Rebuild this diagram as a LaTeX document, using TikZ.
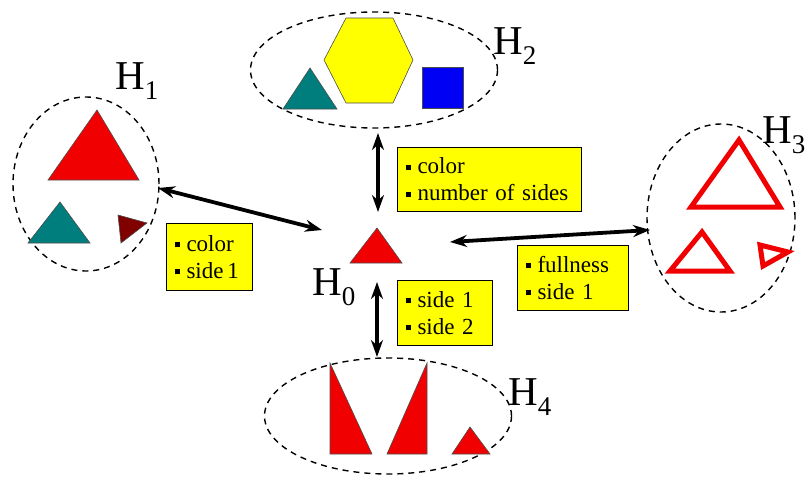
\documentclass[tikz,border=0pt]{standalone}
\usepackage{fontspec}
\setmainfont{Liberation Serif}
\usetikzlibrary{arrows.meta,shapes.geometric}
\definecolor{tealc}{RGB}{0,125,125}
\definecolor{redc}{RGB}{240,0,0}
\definecolor{darkredc}{RGB}{128,0,0}
\definecolor{bluec}{RGB}{0,0,245}
\definecolor{yelc}{RGB}{255,255,0}
\newcommand{\bul}{\rule[4pt]{5pt}{5pt}\hspace{7pt}}
\newcommand{\hsub}[1]{\raisebox{-10pt}{\fontsize{27}{27}\selectfont #1}}
\begin{document}
\begin{tikzpicture}[x=1pt,y=-1pt,
  grp/.style={draw, ellipse, dashed, dash pattern=on 6pt off 5pt, line width=1.4pt, inner sep=0pt},
  infobox/.style={draw=black, fill=yelc, line width=1pt, align=left, inner xsep=8pt, inner ysep=0pt,
    anchor=north west, font=\fontsize{23}{27}\selectfont},
  hlab/.style={anchor=base west, inner sep=0pt, font=\fontsize{41}{41}\selectfont},
  link/.style={line width=3.8pt, {Stealth[length=17pt,width=12pt]}-{Stealth[length=17pt,width=12pt]}},
  shp/.style={draw=black!70, line width=0.6pt, line join=miter},
  outl/.style={draw=redc, line width=5pt, line join=miter}
]
\useasboundingbox (0,0) rectangle (805,479);
\fill[white] (0,0) rectangle (805,479);

% group ellipses
\node[grp, minimum width=146, minimum height=174] (g1) at (86,184) {};
\node[grp, minimum width=247, minimum height=116] (g2) at (374,70) {};
\node[grp, minimum width=148, minimum height=188] (g3) at (721,218) {};
\node[grp, minimum width=247, minimum height=116] (g4) at (388,416) {};

% H2 shapes
\filldraw[shp, fill=yelc] (324,60) -- (346,18) -- (393,18) -- (413,60) -- (393,103) -- (346,103) -- cycle;
\filldraw[shp, fill=tealc] (310,68) -- (337,109) -- (283,109) -- cycle;
\filldraw[shp, fill=bluec] (422,67) rectangle (463,108);

% H1 shapes
\filldraw[shp, fill=redc] (97,110) -- (139,180) -- (48,180) -- cycle;
\filldraw[shp, fill=tealc] (60,202) -- (90,243) -- (28,243) -- cycle;
\filldraw[shp, fill=darkredc] (118,215) -- (147,223) -- (121,243) -- cycle;

% H3 shapes
\draw[outl] (739,140) -- (780,207) -- (691,207) -- cycle;
\draw[outl] (702,232) -- (730,271) -- (670,271) -- cycle;
\draw[outl] (760,245) -- (788,252) -- (763,266) -- cycle;

% H4 shapes
\filldraw[shp, fill=redc] (330,363) -- (372,454) -- (330,454) -- cycle;
\filldraw[shp, fill=redc] (427,363) -- (427,454) -- (387,454) -- cycle;
\filldraw[shp, fill=redc] (470,427) -- (490,454) -- (452,454) -- cycle;

% H0
\filldraw[shp, fill=redc] (377,228) -- (402,263) -- (350,263) -- cycle;

% labels
\node[hlab] (l1) at (115,89) {H\hsub{1}};
\node[hlab] (l2) at (493,54) {H\hsub{2}};
\node[hlab] (l3) at (762,143) {H\hsub{3}};
\node[hlab] (l0) at (312,295) {H\hsub{0}};
\node[hlab] (l4) at (508,405) {H\hsub{4}};

% arrow end points
\coordinate (a1s) at (158,188);
\coordinate (a1e) at (322,230);
\coordinate (a2s) at (378,212);
\coordinate (a2e) at (378,133);
\coordinate (a3s) at (450,242);
\coordinate (a3e) at (650,230);
\coordinate (a4s) at (377,282);
\coordinate (a4e) at (377,357);

\draw[link] (a1s) -- (a1e);
\draw[link] (a2s) -- (a2e);
\draw[link] (a3s) -- (a3e);
\draw[link] (a4s) -- (a4e);

% info boxes
\node[infobox, text width=70pt, minimum height=67pt] (b1) at (166,223) {\bul color\\\bul side\,1};
\node[infobox, text width=168pt, minimum height=64pt] (b2) at (397,147) {\bul color\\\bul number of sides};
\node[infobox, text width=79pt, minimum height=65pt] (b3) at (397,280) {\bul side 1\\\bul side 2};
\node[infobox, text width=95pt, minimum height=65pt] (b4) at (517,245) {\bul fullness\\\bul side 1};
\end{tikzpicture}
\end{document}
